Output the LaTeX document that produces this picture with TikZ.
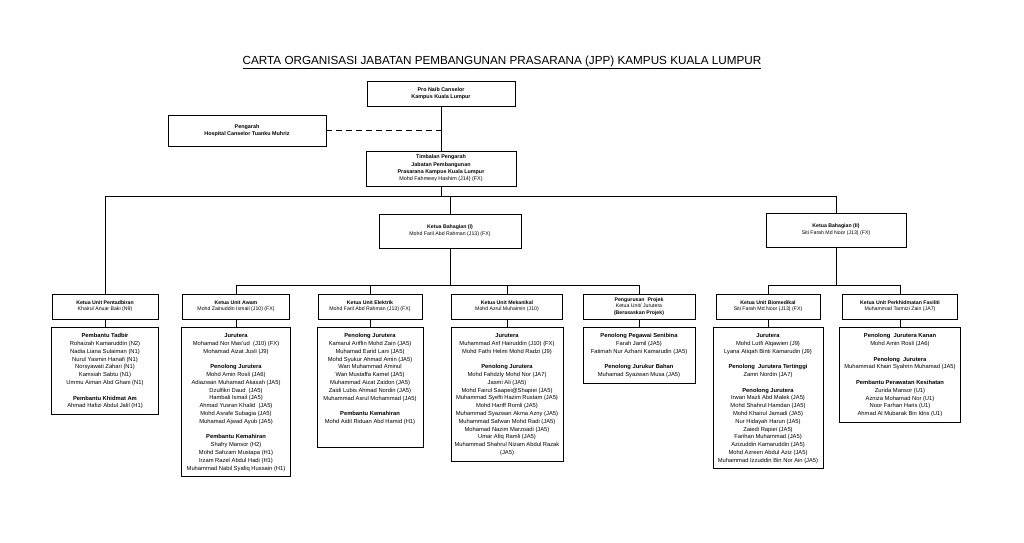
\documentclass[tikz,border=0pt]{standalone}
\usepackage{fontspec}
\setmainfont{Liberation Sans}
\usepackage{tikz}
\usetikzlibrary{positioning}
\tikzstyle{line} = [line width=0.9pt]

\begin{document}
\begin{tikzpicture}[
        x=1pt, y=-1pt,
        node distance=8pt,
        every node/.style={draw, line width=0.9pt, align=center, inner xsep=2pt},
        top/.style={font=\fontsize{5.4}{7.3}\selectfont\bfseries},
        div/.style={minimum height=34pt, font=\fontsize{5.2}{7}\selectfont},
        head/.style={minimum height=25pt, inner ysep=1pt, font=\fontsize{5.2}{6.2}\selectfont},
        staff/.style={inner ysep=5.5pt, font=\fontsize{5.8}{7.8}\selectfont}
    ]
        \useasboundingbox (0,0) rectangle (1024,542);

        % Title
        \node[draw=none, anchor=base, font=\fontsize{11.7}{14}\selectfont] (title) at (502,64)
            {\underline{CARTA ORGANISASI JABATAN PEMBANGUNAN PRASARANA (JPP) KAMPUS KUALA LUMPUR}};

        % Top level
        \node[top, minimum width=148pt, minimum height=25pt] (pnc) at (441,93.5) {Pro Naib Canselor\\Kampus Kuala Lumpur};
        \node[top, minimum width=158pt, minimum height=31pt] (pengarah) at (247,130.5) {Pengarah\\Hospital Canselor Tuanku Muhriz};
        \node[top, minimum width=150pt, minimum height=35pt] (timbalan) at (441,168.5) {Timbalan Pengarah\\Jabatan Pembangunan\\Prasarana Kampus Kuala Lumpur\\{\mdseries Mohd Fahmeey Hashim (J14) (FX)}};

        % Heads of division
        \node[div, minimum width=142pt] (bahI) at (450,231) {\textbf{Ketua Bahagian (I)}\\Mohd Faril Abd Rahman (J13) (FX)};
        \node[div, minimum width=140pt] (bahII) at (836,230) {\textbf{Ketua Bahagian (II)}\\Siti Farah Md Noor (J13) (FX)};

        % Heads of unit
        \node[head, minimum width=106pt] (pentadbiran) at (105,306.5) {\textbf{Ketua Unit Pentadbiran}\\Khairul Anuar Baki (N9)};
        \node[head, minimum width=107pt] (awam) at (236,306.5) {\textbf{Ketua Unit Awam}\\Mohd Zainuddin Ismail (J10) (FX)};
        \node[head, minimum width=104pt] (elektrik) at (370,306.5) {\textbf{Ketua Unit Elektrik}\\Mohd Faril Abd Rahman (J13) (FX)};
        \node[head, minimum width=111pt] (mekanikal) at (507,306.5) {\textbf{Ketua Unit Mekanikal}\\Mohd Azrul Muhaimin (J10)};
        \node[head, minimum width=112pt] (projek) at (639,306.5) {\textbf{Pengurusan\ \ Projek}\\Ketua Unit/ Jurutera\\\textbf{(Berasaskan Projek)}};
        \node[head, minimum width=104pt] (biomedikal) at (768,306.5) {\textbf{Ketua Unit Biomedikal}\\Siti Farah Md Noor (J13) (FX)};
        \node[head, minimum width=115pt] (fasiliti) at (900,306.5) {\textbf{Ketua Unit Perkhidmatan Fasiliti}\\Muhammad Tarmizi Zain (JA7)};

        % Staff lists
        \node[staff, minimum width=107pt, below=8pt of pentadbiran] (pentadbiranStaff) {
            \textbf{Pembantu Tadbir}\\Rohaizah Kamaruddin (N2)\\Nadia Liana Sulaiman (N1)\\Nurul Yasmin Hanafi (N1)\\Norsyawati Zahari (N1)\\Kamsiah Sabtu (N1)\\Ummu Aiman Abd Ghani (N1)\\[7.8pt]
            \textbf{Pembantu Khidmat Am}\\Ahmad Hafizi Abdul Jalil (H1)};
        \node[staff, minimum width=109pt, below=8pt of awam] (awamStaff) {
            \textbf{Jurutera}\\Mohamad Nor Mas'ud\ \ (J10) (FX)\\Mohamad Aizat Jusli (J9)\\[7.8pt]
            \textbf{Penolong Jurutera}\\Mohd Amin Rosli (JA6)\\Adiazwan Muhamad Akasah (JA5)\\Dzulfikri Daud\ \ (JA5)\\Hambali Ismail (JA5)\\Ahmad Yusran Khalid\ \ (JA5)\\Mohd Asrafe Subagia (JA5)\\Muhamad Ajwad Ayub (JA5)\\[7.8pt]
            \textbf{Pembantu Kemahiran}\\Shafry Mansor (H2)\\Mohd Sahzam Mustapa (H1)\\Irzam Razel Abdul Hadi (H1)\\Muhammad Nabil Syafiq Hussain (H1)};
        \node[staff, minimum width=106pt, below=8pt of elektrik] (elektrikStaff) {
            \textbf{Penolong Jurutera}\\Kamarul Ariffin Mohd Zain (JA5)\\Muhamad Earid Lani (JA5)\\Mohd Syukur Ahmad Amin (JA5)\\Wan Muhammad Aminul\\Wan Mustaffa Kamel (JA5)\\Muhammad Aizat Zaidon (JA5)\\Zaidi Lubis Ahmad Nordin (JA5)\\Muhammad Asrul Mohammad (JA5)\\[7.8pt]
            \textbf{Pembantu Kemahiran}\\Mohd Aidil Riduan Abd Hamid (H1)\\[11pt]~};
        \node[staff, minimum width=112pt, below=8pt of mekanikal] (mekanikalStaff) {
            \textbf{Jurutera}\\Muhammad Arif Hairuddin (J10) (FX)\\Mohd Fathi Helmi Mohd Radzi (J9)\\[7.8pt]
            \textbf{Penolong Jurutera}\\Mohd Fahdzly Mohd Nor (JA7)\\Jasmi Ali (JA5)\\Mohd Fairul Saapei@Shapiei (JA5)\\Muhammad Syefti Hazim Rustam (JA5)\\Mohd Hariff Romli (JA5)\\Muhammad Syazwan Akma Azny (JA5)\\Muhammad Safwan Mohd Radi (JA5)\\Mohamad Nazim Marzoadi (JA5)\\Umar Afiq Ramli (JA5)\\Muhammad Shahrul Nizam Abdul Razak\\(JA5)};
        \node[staff, minimum width=112pt, below=8pt of projek] (projekStaff) {
            \textbf{Penolong Pegawai Senibina}\\Farah Jamil (JA5)\\Fatimah Nur Azhani Kamarudin (JA5)\\[7.8pt]
            \textbf{Penolong Jurukur Bahan}\\Muhamad Syazwan Musa (JA5)};
        \node[staff, minimum width=110pt, below=8pt of biomedikal] (biomedikalStaff) {
            \textbf{Jurutera}\\Mohd Lutfi Alqawien (J9)\\Lyana Atiqah Binti Kamarudin (J9)\\[7.8pt]
            \textbf{Penolong\ \ Jurutera Tertinggi}\\Zamri Nordin (JA7)\\[7.8pt]
            \textbf{Penolong Jurutera}\\Irwan Mazli Abd Malek (JA5)\\Mohd Shahrul Hamdan (JA5)\\Mohd Khairul Jamadi (JA5)\\Nur Hidayah Harun (JA5)\\Zaiedi Rapiei (JA5)\\Farihan Muhammad (JA5)\\Azizuddin Kamaruddin (JA5)\\Mohd Azreen Abdul Aziz (JA5)\\Muhammad Izzuddin Bin Nor Ain (JA5)};
        \node[staff, minimum width=121pt, below=8pt of fasiliti] (fasilitiStaff) {
            \textbf{Penolong\ \ Jurutera Kanan}\\Mohd Amin Rosli (JA6)\\[7.8pt]
            \textbf{Penolong\ \ Jurutera}\\Muhammad Khairi Syahrin Muhamad (JA5)\\[7.8pt]
            \textbf{Pembantu Perawatan Kesihatan}\\Zurida Mansor (U1)\\Azniza Mohamad Nor (U1)\\Noor Farhan Haris (U1)\\Ahmad Al Mubarak Bin Idris (U1)};

        % Lines
        \draw[line] (pnc) -- (timbalan);
        \draw[line, dash pattern=on 6pt off 4pt] (pengarah.east) -- (pengarah.east -| pnc.south);
        \draw[line] (timbalan.south) -- ++(0,10) coordinate (jA);
        \draw[line] (pentadbiran.north) |- (jA) -| (bahII.north);
        \draw[line] (bahI.north) -- (bahI.north |- jA);
        \draw[line] (bahI.south) -- ++(0,37) coordinate (jB);
        \draw[line] (awam.north) |- (jB) -| (projek.north);
        \draw[line] (elektrik.north) -- (elektrik.north |- jB);
        \draw[line] (mekanikal.north) -- (mekanikal.north |- jB);
        \draw[line] (bahII.south) -- ++(0,38) coordinate (jC);
        \draw[line] (biomedikal.north) |- (jC) -| (fasiliti.north);

        \draw[line] (pentadbiran) -- (pentadbiranStaff);
        \draw[line] (awam) -- (awamStaff);
        \draw[line] (elektrik) -- (elektrikStaff);
        \draw[line] (mekanikal) -- (mekanikalStaff);
        \draw[line] (projek) -- (projekStaff);
        \draw[line] (biomedikal) -- (biomedikalStaff);
        \draw[line] (fasiliti) -- (fasilitiStaff);
    \end{tikzpicture}
\end{document}
